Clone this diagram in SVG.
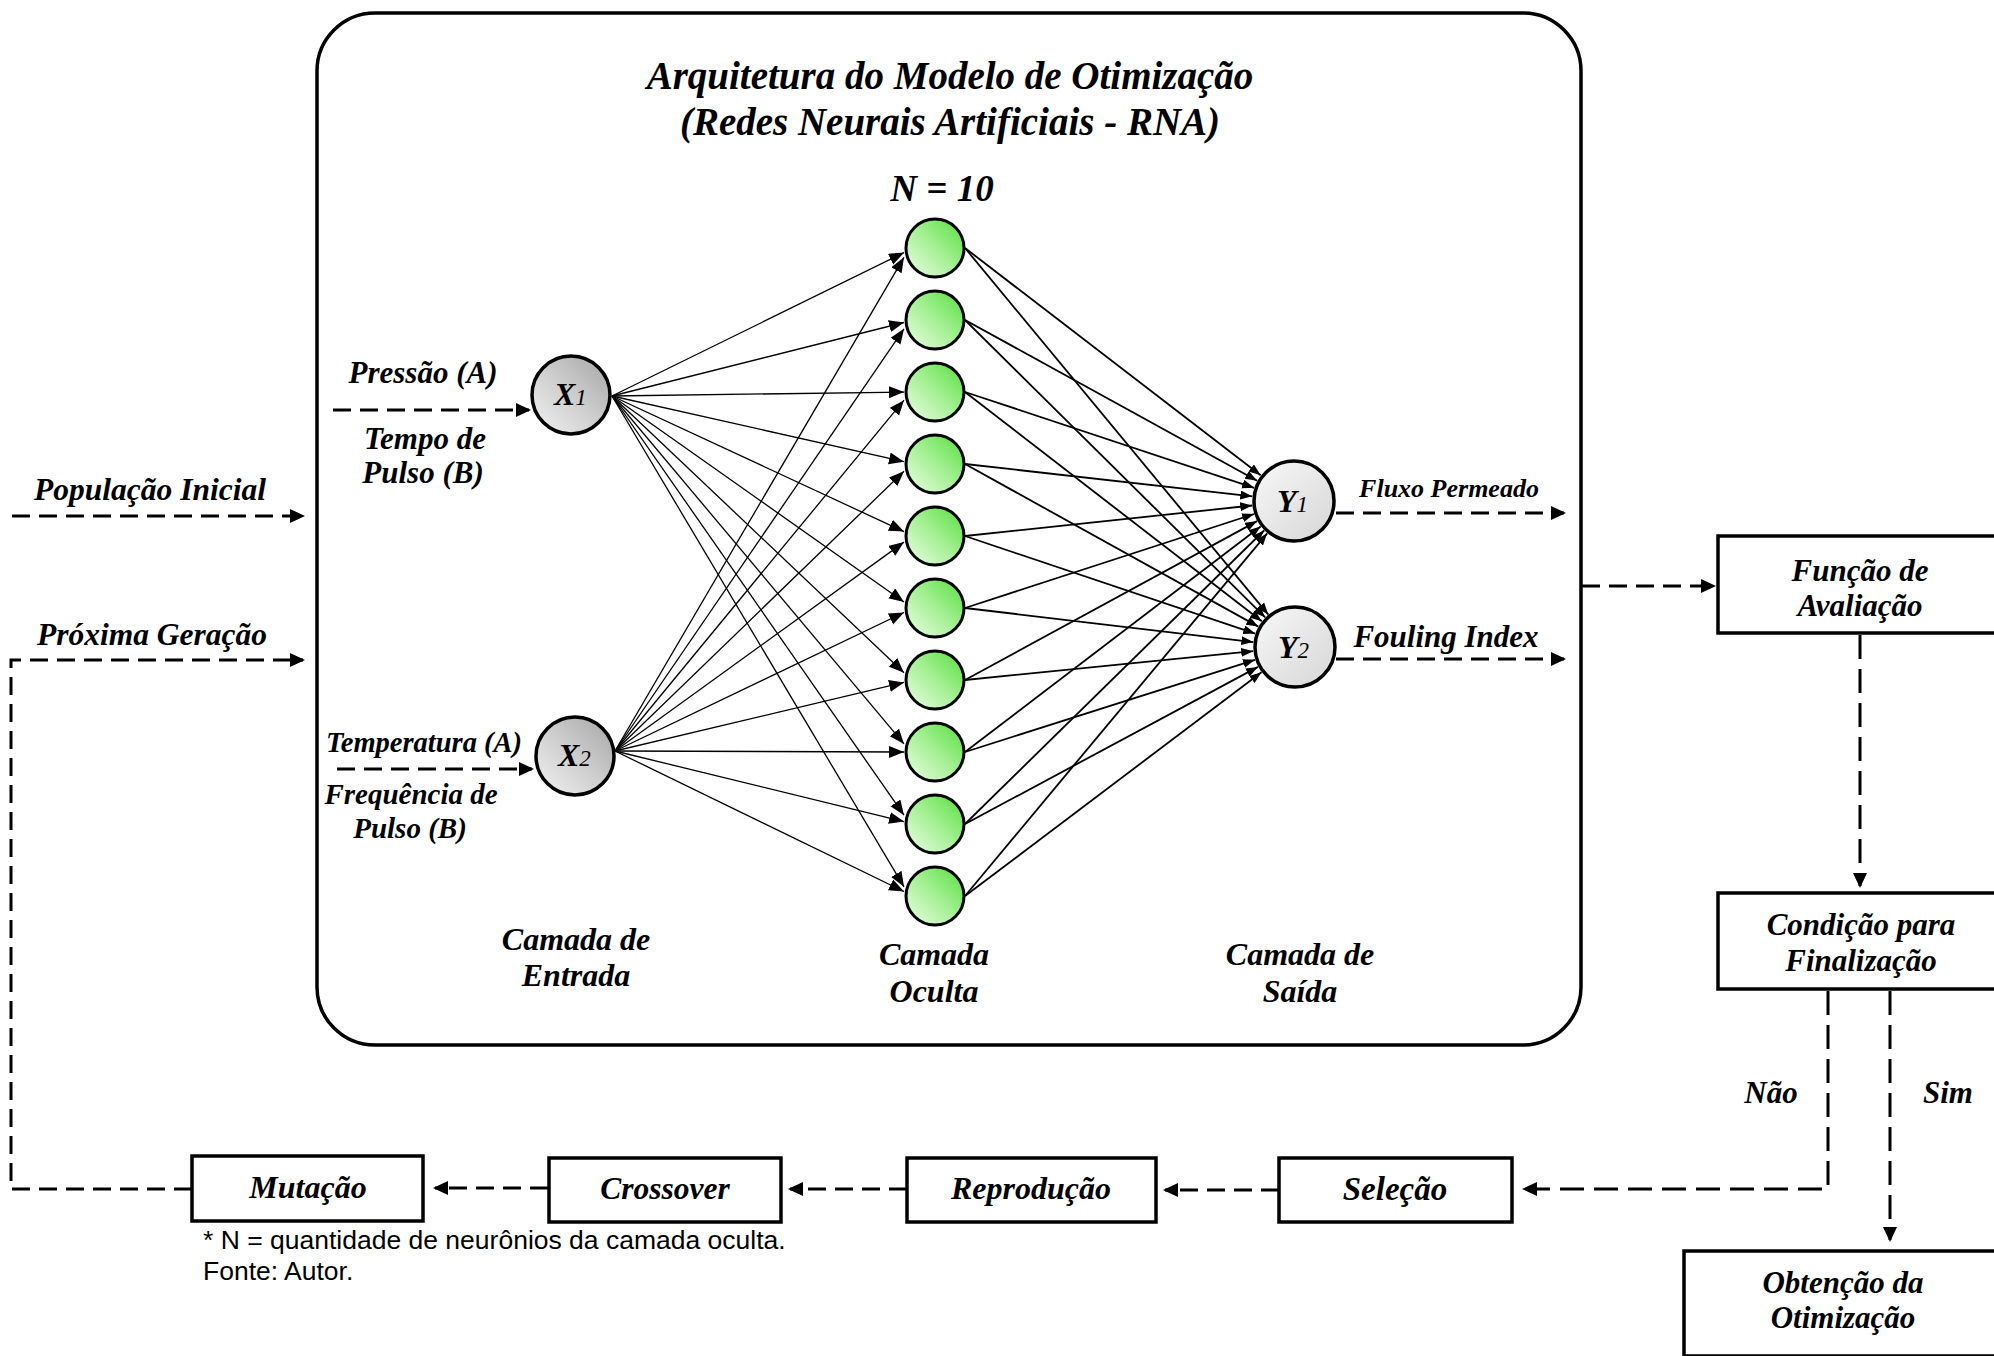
<svg xmlns="http://www.w3.org/2000/svg" width="1994" height="1356" viewBox="0 0 1994 1356">
  <style>
    .t { font-family: "Liberation Serif", "Times New Roman", serif; font-weight: bold; font-style: italic; fill: #000; }
    .mid { text-anchor: middle; }
    .note { font-family: "Liberation Sans", Arial, sans-serif; font-size: 26.5px; fill: #000; }
    .box { fill: #fff; stroke: #000; stroke-width: 3.5; }
    .dash { fill: none; stroke: #000; stroke-width: 3; stroke-dasharray: 18 9; }
    .dashv { fill: none; stroke: #000; stroke-width: 3; stroke-dasharray: 24 10; }
    .win { fill: none; stroke: #000; stroke-width: 1.3; marker-end: url(#ahIn); }
    .wout { fill: none; stroke: #000; stroke-width: 1.8; marker-end: url(#ahOut); }
    .hid { fill: url(#gGreen); stroke: #000; stroke-width: 3; }
    .inp { fill: url(#gGrey); stroke: #000; stroke-width: 3.5; }
    .out { fill: url(#gLight); stroke: #000; stroke-width: 3.5; }
    .sub { font-weight: normal; }
  </style>
  <defs>
    <linearGradient id="gGreen" x1="1" y1="0" x2="0" y2="1">
      <stop offset="0" stop-color="#55de3e"/>
      <stop offset="0.5" stop-color="#a6f095"/>
      <stop offset="1" stop-color="#eefdea"/>
    </linearGradient>
    <linearGradient id="gGrey" x1="1" y1="0" x2="0" y2="1">
      <stop offset="0" stop-color="#a4a4a4"/>
      <stop offset="0.55" stop-color="#d2d2d2"/>
      <stop offset="1" stop-color="#f2f2f2"/>
    </linearGradient>
    <linearGradient id="gLight" x1="0" y1="0" x2="1" y2="1">
      <stop offset="0" stop-color="#f8f8f8"/>
      <stop offset="1" stop-color="#d6d6d6"/>
    </linearGradient>
    <marker id="ahIn" markerUnits="userSpaceOnUse" markerWidth="16" markerHeight="13" refX="15" refY="6" orient="auto">
      <path d="M0,0 L15,6 L0,12 z" fill="#000"/>
    </marker>
    <marker id="ahOut" markerUnits="userSpaceOnUse" markerWidth="13" markerHeight="10" refX="12" refY="4.5" orient="auto">
      <path d="M0,0 L12,4.5 L0,9 z" fill="#000"/>
    </marker>
    <marker id="ahDash" markerUnits="userSpaceOnUse" markerWidth="16" markerHeight="15" refX="13" refY="7" orient="auto">
      <path d="M0,0 L15,7 L0,14 z" fill="#000"/>
    </marker>
  </defs>

  <rect width="1994" height="1356" fill="#fff"/>

  <!-- network frame -->
  <g id="frame">
    <rect x="317" y="13" width="1264" height="1032" rx="58" ry="58" fill="none" stroke="#000" stroke-width="3.5"/>
    <text class="t mid" x="950" y="89" font-size="39">Arquitetura do Modelo de Otimização</text>
    <text class="t mid" x="950" y="135" font-size="39">(Redes Neurais Artificiais - RNA)</text>
    <text class="t mid" x="942" y="201" font-size="37">N = 10</text>
    <text class="t mid" x="576" y="950" font-size="32">Camada de</text>
    <text class="t mid" x="576" y="986" font-size="32">Entrada</text>
    <text class="t mid" x="934" y="965" font-size="32">Camada</text>
    <text class="t mid" x="934" y="1002" font-size="32">Oculta</text>
    <text class="t mid" x="1300" y="965" font-size="32">Camada de</text>
    <text class="t mid" x="1300" y="1002" font-size="32">Saída</text>
  </g>

  <!-- connectors -->
  <g id="connectors">
    <!-- input layer to hidden layer -->
    <line class="win" x1="612" y1="396" x2="904" y2="252.6"/>
    <line class="win" x1="612" y1="396" x2="904" y2="322.5"/>
    <line class="win" x1="612" y1="396" x2="904" y2="392.1"/>
    <line class="win" x1="612" y1="396" x2="904" y2="461.7"/>
    <line class="win" x1="612" y1="396" x2="904" y2="531.6"/>
    <line class="win" x1="612" y1="396" x2="904" y2="602.0"/>
    <line class="win" x1="612" y1="396" x2="904" y2="672.7"/>
    <line class="win" x1="612" y1="396" x2="904" y2="743.9"/>
    <line class="win" x1="612" y1="396" x2="904" y2="815.2"/>
    <line class="win" x1="612" y1="396" x2="904" y2="886.8"/>
    <line class="win" x1="615" y1="751" x2="904" y2="257.3"/>
    <line class="win" x1="615" y1="751" x2="904" y2="328.8"/>
    <line class="win" x1="615" y1="751" x2="904" y2="400.2"/>
    <line class="win" x1="615" y1="751" x2="904" y2="471.3"/>
    <line class="win" x1="615" y1="751" x2="904" y2="542.1"/>
    <line class="win" x1="615" y1="751" x2="904" y2="612.5"/>
    <line class="win" x1="615" y1="751" x2="904" y2="682.4"/>
    <line class="win" x1="615" y1="751" x2="904" y2="752.0"/>
    <line class="win" x1="615" y1="751" x2="904" y2="821.6"/>
    <line class="win" x1="615" y1="751" x2="904" y2="891.5"/>
    <!-- hidden layer to output layer -->
    <line class="wout" x1="965" y1="248" x2="1260.7" y2="475.3"/>
    <line class="wout" x1="965" y1="320" x2="1257.2" y2="480.7"/>
    <line class="wout" x1="965" y1="392" x2="1254.1" y2="487.8"/>
    <line class="wout" x1="965" y1="464" x2="1252.3" y2="496.3"/>
    <line class="wout" x1="965" y1="536" x2="1252.2" y2="505.5"/>
    <line class="wout" x1="965" y1="608" x2="1254.1" y2="514.0"/>
    <line class="wout" x1="965" y1="680" x2="1257.1" y2="521.1"/>
    <line class="wout" x1="965" y1="752" x2="1260.6" y2="526.5"/>
    <line class="wout" x1="965" y1="824" x2="1264.1" y2="530.5"/>
    <line class="wout" x1="965" y1="896" x2="1267.2" y2="533.3"/>
    <line class="wout" x1="965" y1="248" x2="1268.3" y2="614.6"/>
    <line class="wout" x1="965" y1="320" x2="1265.2" y2="617.4"/>
    <line class="wout" x1="965" y1="392" x2="1261.8" y2="621.3"/>
    <line class="wout" x1="965" y1="464" x2="1258.3" y2="626.6"/>
    <line class="wout" x1="965" y1="536" x2="1255.2" y2="633.6"/>
    <line class="wout" x1="965" y1="608" x2="1253.3" y2="642.1"/>
    <line class="wout" x1="965" y1="680" x2="1253.2" y2="651.2"/>
    <line class="wout" x1="965" y1="752" x2="1255.0" y2="659.8"/>
    <line class="wout" x1="965" y1="824" x2="1258.0" y2="666.9"/>
    <line class="wout" x1="965" y1="896" x2="1261.5" y2="672.3"/>

    <!-- flow arrows (dashed) -->
    <path class="dash" d="M12,516 H303" marker-end="url(#ahDash)"/>
    <path class="dash" d="M192,1189 H11 V660 H303" marker-end="url(#ahDash)"/>
    <path class="dash" d="M333,410 H529" marker-end="url(#ahDash)"/>
    <path class="dash" d="M337,769 H532" marker-end="url(#ahDash)"/>
    <path class="dash" d="M1336,513 H1564" marker-end="url(#ahDash)"/>
    <path class="dash" d="M1336,659 H1564" marker-end="url(#ahDash)"/>
    <path class="dash" d="M1582,586 H1714" marker-end="url(#ahDash)"/>
    <path class="dashv" d="M1860,635 V886" marker-end="url(#ahDash)"/>
    <path class="dashv" d="M1828,991 V1189 H1524" marker-end="url(#ahDash)"/>
    <path class="dashv" d="M1890,991 V1240" marker-end="url(#ahDash)"/>
    <path class="dash" d="M1279,1190 H1165" marker-end="url(#ahDash)"/>
    <path class="dash" d="M907,1189 H790" marker-end="url(#ahDash)"/>
    <path class="dash" d="M548,1188 H435" marker-end="url(#ahDash)"/>
  </g>

  <!-- edge labels -->
  <g id="labels">
    <text class="t mid" x="150" y="500" font-size="31.5">População Inicial</text>
    <text class="t mid" x="152" y="645" font-size="31.5">Próxima Geração</text>
    <text class="t mid" x="423" y="383" font-size="31">Pressão (A)</text>
    <text class="t mid" x="425" y="449" font-size="31">Tempo de</text>
    <text class="t mid" x="423" y="483" font-size="31">Pulso (B)</text>
    <text class="t mid" x="424" y="752" font-size="28.5">Temperatura (A)</text>
    <text class="t mid" x="411" y="804" font-size="29">Frequência de</text>
    <text class="t mid" x="410" y="838" font-size="29">Pulso (B)</text>
    <text class="t mid" x="1449" y="497" font-size="26">Fluxo Permeado</text>
    <text class="t mid" x="1446" y="647" font-size="31">Fouling Index</text>
    <text class="t mid" x="1771" y="1103" font-size="31">Não</text>
    <text class="t mid" x="1948" y="1103" font-size="31">Sim</text>
  </g>

  <!-- input neurons -->
  <g id="x1">
    <circle class="inp" cx="571" cy="395" r="39"/>
    <text class="t" x="554" y="405" font-size="32">X<tspan class="sub" font-size="23">1</tspan></text>
  </g>
  <g id="x2">
    <circle class="inp" cx="575" cy="756" r="39"/>
    <text class="t" x="558" y="766" font-size="32">X<tspan class="sub" font-size="23">2</tspan></text>
  </g>

  <!-- hidden neurons -->
  <g id="h1"><circle class="hid" cx="935" cy="248" r="29"/></g>
  <g id="h2"><circle class="hid" cx="935" cy="320" r="29"/></g>
  <g id="h3"><circle class="hid" cx="935" cy="392" r="29"/></g>
  <g id="h4"><circle class="hid" cx="935" cy="464" r="29"/></g>
  <g id="h5"><circle class="hid" cx="935" cy="536" r="29"/></g>
  <g id="h6"><circle class="hid" cx="935" cy="608" r="29"/></g>
  <g id="h7"><circle class="hid" cx="935" cy="680" r="29"/></g>
  <g id="h8"><circle class="hid" cx="935" cy="752" r="29"/></g>
  <g id="h9"><circle class="hid" cx="935" cy="824" r="29"/></g>
  <g id="h10"><circle class="hid" cx="935" cy="896" r="29"/></g>

  <!-- output neurons -->
  <g id="y1">
    <circle class="out" cx="1294" cy="501" r="40"/>
    <text class="t" x="1277" y="512" font-size="32">Y<tspan class="sub" font-size="23">1</tspan></text>
  </g>
  <g id="y2">
    <circle class="out" cx="1295" cy="647" r="40"/>
    <text class="t" x="1278" y="658" font-size="32">Y<tspan class="sub" font-size="23">2</tspan></text>
  </g>

  <!-- genetic algorithm steps -->
  <g id="avaliacao">
    <rect class="box" x="1718" y="536" width="292" height="97"/>
    <text class="t mid" x="1860" y="581" font-size="31">Função de</text>
    <text class="t mid" x="1860" y="616" font-size="31">Avaliação</text>
  </g>
  <g id="condicao">
    <rect class="box" x="1718" y="893" width="292" height="96"/>
    <text class="t mid" x="1861" y="935" font-size="31">Condição para</text>
    <text class="t mid" x="1861" y="971" font-size="31">Finalização</text>
  </g>
  <g id="obtencao">
    <rect class="box" x="1684" y="1251" width="330" height="105"/>
    <text class="t mid" x="1843" y="1293" font-size="31">Obtenção da</text>
    <text class="t mid" x="1843" y="1328" font-size="31">Otimização</text>
  </g>
  <g id="selecao">
    <rect class="box" x="1279" y="1158" width="233" height="64"/>
    <text class="t mid" x="1395" y="1200" font-size="33">Seleção</text>
  </g>
  <g id="reproducao">
    <rect class="box" x="907" y="1158" width="249" height="64"/>
    <text class="t mid" x="1031" y="1199" font-size="32">Reprodução</text>
  </g>
  <g id="crossover">
    <rect class="box" x="549" y="1158" width="232" height="64"/>
    <text class="t mid" x="665" y="1199" font-size="31.5">Crossover</text>
  </g>
  <g id="mutacao">
    <rect class="box" x="192" y="1156" width="231" height="65"/>
    <text class="t mid" x="308" y="1198" font-size="32">Mutação</text>
  </g>

  <!-- footnote -->
  <g id="footnote">
    <text class="note" x="203" y="1249">* N = quantidade de neurônios da camada oculta.</text>
    <text class="note" x="203" y="1280">Fonte: Autor.</text>
  </g>
</svg>
